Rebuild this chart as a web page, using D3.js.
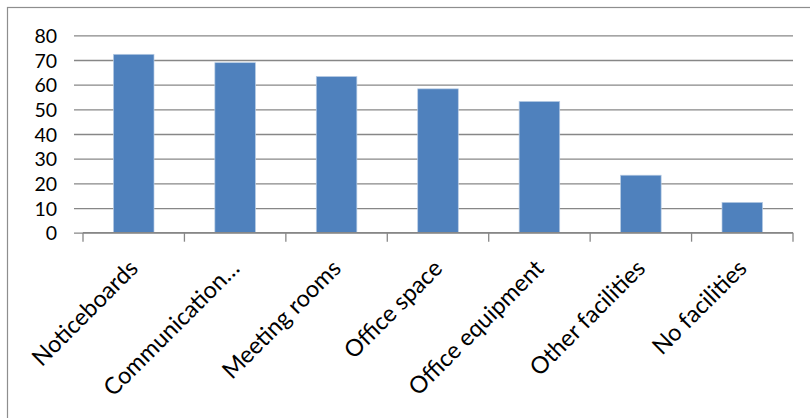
<!DOCTYPE html>
<html>
<head>
<meta charset="utf-8">
<script src="https://cdn.jsdelivr.net/npm/d3@7"></script>
<style>
  html, body { margin: 0; padding: 0; background: #fff; }
  svg { display: block; }
  text { font-family: Lato, "Open Sans", sans-serif; fill: #000; }
</style>
</head>
<body>
<svg id="chart" width="810" height="418"></svg>
<script>
// Facilities available (percentage of respondents)
const categories = ["Noticeboards", "Communication\u2026", "Meeting rooms", "Office space",
                    "Office equipment", "Other facilities", "No facilities"];
const values = [72.3, 68.9, 63.3, 58.3, 53.2, 23.3, 12.3];
const yTicks = [0, 10, 20, 30, 40, 50, 60, 70, 80];

const svg = d3.select("#chart");
const W = 810, H = 418;
const plot = { left: 83, right: 793, top: 35.3, bottom: 232.7 };

// chart-area frame
svg.append("rect")
  .attr("x", 7.5).attr("y", 7.5)
  .attr("width", W + 10).attr("height", H + 10)
  .attr("fill", "none").attr("stroke", "#8e8e8e").attr("stroke-width", 1.2);

const x = d3.scaleBand()
  .domain(categories)
  .range([plot.left, plot.right])
  .paddingInner(0.6).paddingOuter(0.3);

const xCat = d3.scaleBand().domain(categories).range([plot.left, plot.right]);

const y = d3.scaleLinear().domain([0, 80]).range([plot.bottom, plot.top]);

// horizontal gridlines with short ticks to the left
const yAxis = d3.axisLeft(y)
  .tickValues(yTicks)
  .tickSize(plot.right - plot.left + 9)
  .tickPadding(17)
  .tickFormat(d3.format("d"));

const gy = svg.append("g")
  .attr("transform", `translate(${plot.right},0)`)
  .call(yAxis);
gy.select(".domain").remove();
gy.selectAll(".tick line").attr("stroke", "#878787").attr("stroke-width", 1.3);
gy.selectAll(".tick text")
  .attr("font-size", 19.5)
  .attr("dy", "0.37em");

// bars
svg.append("g").selectAll("rect")
  .data(values)
  .join("rect")
  .attr("x", (d, i) => x(categories[i]))
  .attr("y", d => y(d))
  .attr("width", x.bandwidth())
  .attr("height", d => y(0) - y(d))
  .attr("fill", "#4f81bd")
  .attr("stroke", "#b8cce4")
  .attr("stroke-width", 0.7);

// category axis: baseline with ticks at band boundaries
const gx = svg.append("g");
gx.append("line")
  .attr("x1", plot.left).attr("x2", plot.right)
  .attr("y1", y(0)).attr("y2", y(0))
  .attr("stroke", "#878787").attr("stroke-width", 1.3);
const bounds = categories.map(c => xCat(c)).concat([plot.right]);
gx.selectAll("line.tk")
  .data(bounds)
  .join("line")
  .attr("class", "tk")
  .attr("x1", d => d).attr("x2", d => d)
  .attr("y1", y(0)).attr("y2", y(0) + 9)
  .attr("stroke", "#878787").attr("stroke-width", 1.3);

// rotated category labels
gx.selectAll("text")
  .data(categories)
  .join("text")
  .attr("transform", d => `translate(${xCat(d) + xCat.bandwidth() / 2},264) rotate(-45)`)
  .attr("text-anchor", "end")
  .attr("dy", "0.35em")
  .attr("font-size", 23.5)
  .text(d => d);
</script>
</body>
</html>
